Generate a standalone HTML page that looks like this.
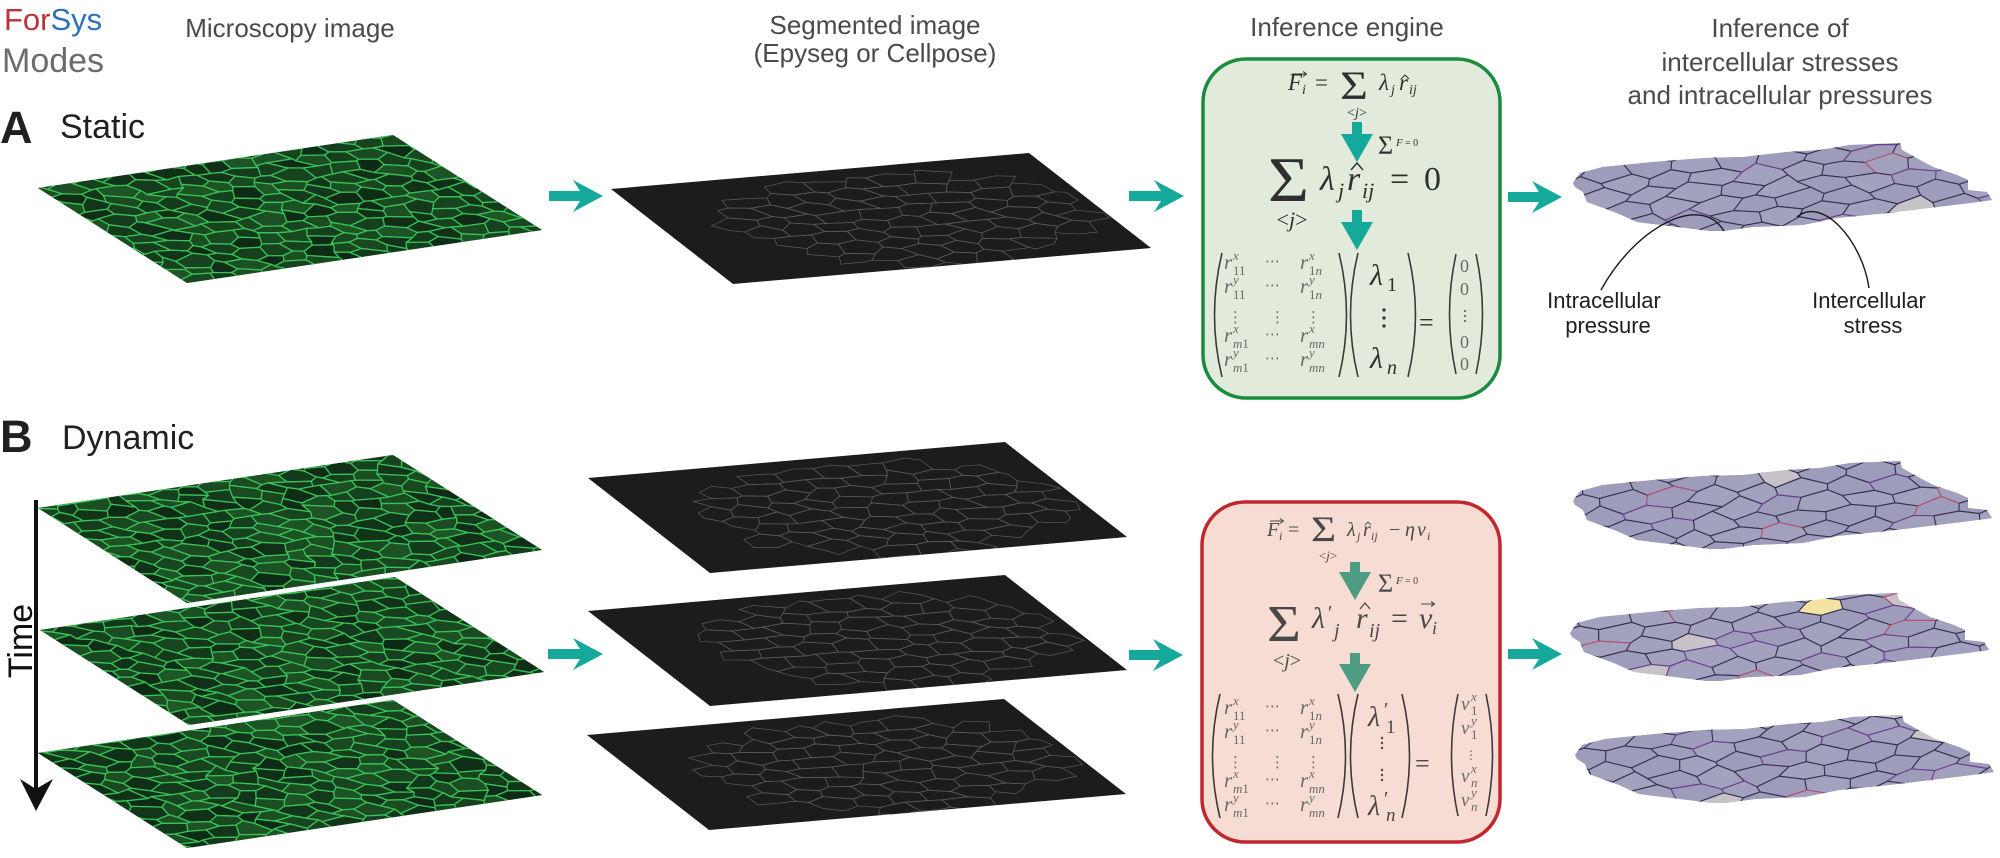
<!DOCTYPE html>
<html><head><meta charset="utf-8">
<style>
html,body{margin:0;padding:0;background:#fff;width:2000px;height:858px;overflow:hidden;}
svg{display:block;}
text{font-family:"Liberation Sans",Arial,sans-serif;}
.hd{font-size:26px;fill:#4a4a4a;}
.m{font-family:"Liberation Serif","DejaVu Serif",serif;}
.i{font-style:italic;}
.mt{font-family:"Liberation Serif","DejaVu Serif",serif;font-style:italic;font-size:21px;fill:#6a6a6a;}
.ms{font-family:"Liberation Serif","DejaVu Serif",serif;font-style:italic;font-size:13px;fill:#6a6a6a;}
.up{font-style:normal;}
.dd{font-family:"DejaVu Sans","Liberation Sans",sans-serif;font-size:15px;fill:#6a6a6a;}
.ea{fill:#2f2f2f;}
.eb{fill:#484848;}
</style></head><body>
<svg id="s" width="2000" height="858" viewBox="0 0 2000 858" xmlns="http://www.w3.org/2000/svg">
<defs>
 <clipPath id="cp"><rect x="0" y="0" width="400" height="300"/></clipPath>
 <clipPath id="blob"><polygon points="1573,183 1580,173 1603,167 1653,162 1703,158 1743,157 1787,152 1820,150 1850,145 1900,143 1902,150 1920,160 1933,167 1957,175 1968,180 1968,190 1987,192 1992,200 1970,203 1937,207 1887,213 1837,218 1803,225 1753,227 1723,231 1710,231 1670,226 1637,222 1617,213 1587,202 1583,192 1575,187"/></clipPath>
</defs>

<!-- Top-left titles -->
<text x="4" y="30" font-size="31"><tspan fill="#b8343c">For</tspan><tspan fill="#2b72b8">Sys</tspan></text>
<text x="2" y="72" font-size="34" fill="#6b6b6b">Modes</text>

<!-- Column headers -->
<text class="hd" x="290" y="37" text-anchor="middle">Microscopy image</text>
<text class="hd" x="875" y="34" text-anchor="middle">Segmented image</text>
<text class="hd" x="875" y="62" text-anchor="middle">(Epyseg or Cellpose)</text>
<text class="hd" x="1347" y="36" text-anchor="middle">Inference engine</text>
<text class="hd" x="1780" y="37" text-anchor="middle">Inference of</text>
<text class="hd" x="1780" y="71" text-anchor="middle">intercellular  stresses</text>
<text class="hd" x="1780" y="104" text-anchor="middle">and intracellular pressures</text>

<!-- Section labels -->
<text x="0" y="143" font-size="45" font-weight="bold" fill="#231f20">A</text>
<text x="60" y="138" font-size="34" fill="#231f20">Static</text>
<text x="0" y="452" font-size="45" font-weight="bold" fill="#231f20">B</text>
<text x="62" y="449" font-size="34" fill="#231f20">Dynamic</text>

<!-- Time arrow -->
<line x1="36" y1="500" x2="36" y2="792" stroke="#111" stroke-width="4"/>
<polygon points="20,779 36,789 53,779 36,811" fill="#111"/>
<text transform="translate(32,641) rotate(-90)" font-size="34" text-anchor="middle" fill="#111">Time</text>

<!-- Green microscopy planes -->
<g transform="matrix(0.8875 -0.1325 0.4967 0.3167 38 188)"><rect width="400" height="300" fill="#1c4a26"/><g id="gA" clip-path="url(#cp)"></g></g>
<g transform="matrix(0.8875 -0.1325 0.4967 0.3167 38 508)"><rect width="400" height="300" fill="#1c4a26"/><g id="gB1" clip-path="url(#cp)"></g></g>
<g transform="matrix(0.8875 -0.1325 0.4967 0.3167 40 630)"><rect width="400" height="300" fill="#1c4a26"/><g id="gB2" clip-path="url(#cp)"></g></g>
<g transform="matrix(0.8875 -0.1325 0.4967 0.3167 38 753)"><rect width="400" height="300" fill="#1c4a26"/><g id="gB3" clip-path="url(#cp)"></g></g>

<!-- Black segmented planes -->
<g transform="matrix(1.045 -0.09 0.4067 0.3167 611 189)"><rect width="400" height="300" fill="#1b1c1c"/><g id="kA" clip-path="url(#cp)"></g></g>
<g transform="matrix(1.0425 -0.09 0.4067 0.3167 588 478)"><rect width="400" height="300" fill="#1b1c1c"/><g id="kB1" clip-path="url(#cp)"></g></g>
<g transform="matrix(1.0425 -0.09 0.4067 0.3167 588 611)"><rect width="400" height="300" fill="#1b1c1c"/><g id="kB2" clip-path="url(#cp)"></g></g>
<g transform="matrix(1.0425 -0.09 0.4067 0.3167 587 735)"><rect width="400" height="300" fill="#1b1c1c"/><g id="kB3" clip-path="url(#cp)"></g></g>

<!-- Teal arrows -->
<g fill="#15a99b">
 <polygon points="549,191 580,191 573,180 603,196 573,212 580,201 549,201"/>
 <polygon points="1129,191 1161,191 1154,180 1184,196 1154,212 1161,201 1129,201"/>
 <polygon points="1508,192 1539,192 1532,181 1562,197 1532,213 1539,202 1508,202"/>
 <polygon points="548,649 580,649 573,638 603,654 573,670 580,659 548,659"/>
 <polygon points="1129,650 1160,650 1153,639 1183,655 1153,671 1160,660 1129,660"/>
 <polygon points="1508,649 1539,649 1532,638 1562,654 1532,670 1539,659 1508,659"/>
</g>

<!-- Meshes (inference output) -->
<g><g clip-path="url(#blob)"><rect x="1560" y="130" width="440" height="120" fill="#9f9eba"/><g id="mA"></g></g></g>
<g transform="translate(0,318)"><g clip-path="url(#blob)"><rect x="1560" y="130" width="440" height="120" fill="#9f9eba"/><g id="mB1"></g></g></g>
<g transform="translate(-3,450)"><g clip-path="url(#blob)"><rect x="1560" y="130" width="440" height="120" fill="#9f9eba"/><g id="mB2"></g></g></g>
<g transform="translate(2,572)"><g clip-path="url(#blob)"><rect x="1560" y="130" width="440" height="120" fill="#9f9eba"/><g id="mB3"></g></g></g>

<!-- Pointer curves and labels -->
<path d="M1601,290 C1635,228 1700,192 1724,231" fill="none" stroke="#1a1a1a" stroke-width="1.4"/>
<path d="M1869,288 C1862,240 1822,196 1797,217" fill="none" stroke="#1a1a1a" stroke-width="1.4"/>
<text x="1604" y="308" font-size="22" text-anchor="middle" fill="#1e1e1e">Intracellular</text>
<text x="1608" y="333" font-size="22" text-anchor="middle" fill="#1e1e1e">pressure</text>
<text x="1869" y="308" font-size="22" text-anchor="middle" fill="#1e1e1e">Intercellular</text>
<text x="1873" y="333" font-size="22" text-anchor="middle" fill="#1e1e1e">stress</text>

<!-- ================= Box A (static) ================= -->
<rect x="1203" y="59" width="297" height="339" rx="43" ry="43" fill="#e1eadb" stroke="#1b8b3d" stroke-width="3.5"/>
<g class="ea">
 <text class="m i" x="1288" y="90" font-size="23">F</text>
 <path d="M1292,74 H1306 M1303,71.5 L1306.5,74 L1303,76.5" stroke="#2f2f2f" stroke-width="1" fill="none"/>
 <text class="m i" x="1302" y="94" font-size="14">i</text>
 <text class="m" x="1315" y="90" font-size="23">=</text>
 <text class="m" x="1340" y="99" font-size="40" transform="translate(1340,0) scale(1.2,1) translate(-1340,0)">Σ</text>
 <text class="m" x="1357" y="117" font-size="14" text-anchor="middle">&lt;<tspan class="i">j</tspan>&gt;</text>
 <text class="m i" x="1379" y="90" font-size="23">λ</text>
 <text class="m i" x="1391" y="94" font-size="14">j</text>
 <text class="m i" x="1399" y="90" font-size="23">r</text>
 <path d="M1401,79 L1405,75 L1409,79" stroke="#2f2f2f" stroke-width="1" fill="none"/>
 <text class="m i" x="1409" y="94" font-size="14">ij</text>
</g>
<polygon points="1352,122 1362,122 1362,134 1373,134 1357,162 1341,134 1352,134" fill="#15a99b"/>
<g class="ea">
 <text class="m" x="1378" y="154" font-size="26">Σ</text>
 <text class="m i" x="1396" y="146" font-size="11">F</text>
 <text class="m" x="1405" y="146" font-size="10">= 0</text>
</g>
<g class="ea">
 <text class="m" x="1268" y="201" font-size="64" transform="translate(1268,0) scale(1.1,1) translate(-1268,0)">Σ</text>
 <text class="m" x="1292" y="227" font-size="22" text-anchor="middle">&lt;<tspan class="i">j</tspan>&gt;</text>
 <text class="m i" x="1320" y="190" font-size="34">λ</text>
 <text class="m i" x="1338" y="198" font-size="22">j</text>
 <text class="m i" x="1347" y="190" font-size="34">r</text>
 <path d="M1351,170 L1357,163 L1363,170" stroke="#2f2f2f" stroke-width="1.4" fill="none"/>
 <text class="m i" x="1362" y="198" font-size="22">ij</text>
 <text class="m" x="1390" y="190" font-size="34">=</text>
 <text class="m" x="1424" y="190" font-size="34">0</text>
</g>
<polygon points="1352,210 1362,210 1362,222 1373,222 1357,250 1341,222 1352,222" fill="#15a99b"/>

<!-- Matrix A -->
<g fill="none" stroke="#3a3a3a" stroke-width="1.6">
 <path d="M1222,253 Q1207,315 1222,377"/>
 <path d="M1339,253 Q1354,315 1339,377"/>
 <path d="M1358,253 Q1343,315 1358,377"/>
 <path d="M1408,253 Q1423,315 1408,377"/>
 <path d="M1456,254 Q1443,314 1456,374"/>
 <path d="M1476,254 Q1489,314 1476,374"/>
</g>
<g>
 <text class="mt" x="1224" y="269">r</text><text class="ms" x="1233" y="260">x</text><text class="ms" x="1233" y="275"><tspan class="up">11</tspan></text>
 <text class="dd" x="1265" y="266">⋯</text>
 <text class="mt" x="1300" y="269">r</text><text class="ms" x="1309" y="260">x</text><text class="ms" x="1309" y="275"><tspan class="up">1</tspan>n</text>
 <text class="mt" x="1224" y="293">r</text><text class="ms" x="1233" y="284">y</text><text class="ms" x="1233" y="299"><tspan class="up">11</tspan></text>
 <text class="dd" x="1265" y="290">⋯</text>
 <text class="mt" x="1300" y="293">r</text><text class="ms" x="1309" y="284">y</text><text class="ms" x="1309" y="299"><tspan class="up">1</tspan>n</text>
 <text class="dd" x="1228" y="322">⋮</text><text class="dd" x="1270" y="322">⋮</text><text class="dd" x="1306" y="322">⋮</text>
 <text class="mt" x="1224" y="342">r</text><text class="ms" x="1233" y="333">x</text><text class="ms" x="1233" y="348">m<tspan class="up">1</tspan></text>
 <text class="dd" x="1265" y="339">⋯</text>
 <text class="mt" x="1300" y="342">r</text><text class="ms" x="1309" y="333">x</text><text class="ms" x="1309" y="348">mn</text>
 <text class="mt" x="1224" y="366">r</text><text class="ms" x="1233" y="357">y</text><text class="ms" x="1233" y="372">m<tspan class="up">1</tspan></text>
 <text class="dd" x="1265" y="363">⋯</text>
 <text class="mt" x="1300" y="366">r</text><text class="ms" x="1309" y="357">y</text><text class="ms" x="1309" y="372">mn</text>
</g>
<g class="ea">
 <text class="m i" x="1370" y="285" font-size="30">λ</text>
 <text class="m" x="1387" y="291" font-size="20">1</text>
 <circle cx="1384" cy="310" r="1.6"/><circle cx="1384" cy="318" r="1.6"/><circle cx="1384" cy="326" r="1.6"/>
 <text class="m i" x="1370" y="368" font-size="30">λ</text>
 <text class="m i" x="1387" y="374" font-size="20">n</text>
 <text class="m" x="1419" y="331" font-size="26">=</text>
</g>
<g fill="#6a6a6a">
 <text class="m" x="1460" y="272" font-size="18">0</text>
 <text class="m" x="1460" y="295" font-size="18">0</text>
 <circle cx="1465" cy="311" r="1.1"/><circle cx="1465" cy="316" r="1.1"/><circle cx="1465" cy="321" r="1.1"/>
 <text class="m" x="1460" y="348" font-size="18">0</text>
 <text class="m" x="1460" y="370" font-size="18">0</text>
</g>

<!-- ================= Box B (dynamic) ================= -->
<rect x="1202" y="502" width="298" height="340" rx="43" ry="43" fill="#f7dcd3" stroke="#c1272d" stroke-width="3.5"/>
<g class="eb">
 <text class="m i" x="1267" y="536" font-size="20">F</text>
 <path d="M1270,521 H1283 M1280,518.5 L1283.5,521 L1280,523.5" stroke="#484848" stroke-width="1" fill="none"/>
 <text class="m i" x="1279" y="540" font-size="12">i</text>
 <text class="m" x="1288" y="536" font-size="20">=</text>
 <text class="m" x="1311" y="541" font-size="36" transform="translate(1311,0) scale(1.2,1) translate(-1311,0)">Σ</text>
 <text class="m" x="1328" y="560" font-size="13" text-anchor="middle">&lt;<tspan class="i">j</tspan>&gt;</text>
 <text class="m i" x="1347" y="536" font-size="20">λ</text>
 <text class="m i" x="1357" y="540" font-size="12">j</text>
 <text class="m i" x="1363" y="536" font-size="20">r</text>
 <path d="M1365,525 L1368,522 L1371,525" stroke="#484848" stroke-width="0.9" fill="none"/>
 <text class="m i" x="1371" y="540" font-size="12">ij</text>
 <text class="m" x="1389" y="536" font-size="20">−</text>
 <text class="m i" x="1405" y="536" font-size="20">η</text>
 <text class="m i" x="1417" y="536" font-size="20">v</text>
 <text class="m i" x="1427" y="540" font-size="12">i</text>
</g>
<polygon points="1350,562 1360,562 1360,572 1371,572 1355,600 1339,572 1350,572" fill="#4f9c84"/>
<g class="eb">
 <text class="m" x="1378" y="592" font-size="26">Σ</text>
 <text class="m i" x="1396" y="584" font-size="11">F</text>
 <text class="m" x="1405" y="584" font-size="10">= 0</text>
</g>
<g class="eb">
 <text class="m" x="1267" y="641" font-size="52" transform="translate(1267,0) scale(1.12,1) translate(-1267,0)">Σ</text>
 <text class="m" x="1287" y="667" font-size="20" text-anchor="middle">&lt;<tspan class="i">j</tspan>&gt;</text>
 <text class="m i" x="1312" y="628" font-size="30">λ</text>
 <text class="m" x="1328" y="619" font-size="20">′</text>
 <text class="m i" x="1334" y="637" font-size="20">j</text>
 <text class="m i" x="1356" y="628" font-size="30">r</text>
 <path d="M1360,609 L1365,603 L1370,609" stroke="#484848" stroke-width="1.3" fill="none"/>
 <text class="m i" x="1369" y="637" font-size="20">ij</text>
 <text class="m" x="1391" y="628" font-size="30">=</text>
 <text class="m i" x="1419" y="628" font-size="30">v</text>
 <path d="M1421,604 H1434 M1431,601.5 L1434.5,604 L1431,606.5" stroke="#484848" stroke-width="1.1" fill="none"/>
 <text class="m i" x="1432" y="634" font-size="18">i</text>
</g>
<polygon points="1350,653 1360,653 1360,664 1371,664 1355,692 1339,664 1350,664" fill="#4f9c84"/>

<!-- Matrix B -->
<g fill="none" stroke="#3a3a3a" stroke-width="1.6">
 <path d="M1220,694 Q1205,756 1220,818"/>
 <path d="M1338,694 Q1353,756 1338,818"/>
 <path d="M1358,694 Q1343,756 1358,818"/>
 <path d="M1402,694 Q1417,756 1402,818"/>
 <path d="M1458,694 Q1445,755 1458,816"/>
 <path d="M1486,694 Q1499,755 1486,816"/>
</g>
<g>
 <text class="mt" x="1224" y="714">r</text><text class="ms" x="1233" y="705">x</text><text class="ms" x="1233" y="720"><tspan class="up">11</tspan></text>
 <text class="dd" x="1265" y="711">⋯</text>
 <text class="mt" x="1300" y="714">r</text><text class="ms" x="1309" y="705">x</text><text class="ms" x="1309" y="720"><tspan class="up">1</tspan>n</text>
 <text class="mt" x="1224" y="738">r</text><text class="ms" x="1233" y="729">y</text><text class="ms" x="1233" y="744"><tspan class="up">11</tspan></text>
 <text class="dd" x="1265" y="735">⋯</text>
 <text class="mt" x="1300" y="738">r</text><text class="ms" x="1309" y="729">y</text><text class="ms" x="1309" y="744"><tspan class="up">1</tspan>n</text>
 <text class="dd" x="1228" y="767">⋮</text><text class="dd" x="1270" y="767">⋮</text><text class="dd" x="1306" y="767">⋮</text>
 <text class="mt" x="1224" y="787">r</text><text class="ms" x="1233" y="778">x</text><text class="ms" x="1233" y="793">m<tspan class="up">1</tspan></text>
 <text class="dd" x="1265" y="784">⋯</text>
 <text class="mt" x="1300" y="787">r</text><text class="ms" x="1309" y="778">x</text><text class="ms" x="1309" y="793">mn</text>
 <text class="mt" x="1224" y="811">r</text><text class="ms" x="1233" y="802">y</text><text class="ms" x="1233" y="817">m<tspan class="up">1</tspan></text>
 <text class="dd" x="1265" y="808">⋯</text>
 <text class="mt" x="1300" y="811">r</text><text class="ms" x="1309" y="802">y</text><text class="ms" x="1309" y="817">mn</text>
</g>
<g class="eb">
 <text class="m i" x="1368" y="726" font-size="28">λ</text>
 <text class="m" x="1384" y="716" font-size="20">′</text>
 <text class="m" x="1386" y="733" font-size="19">1</text>
 <circle cx="1382" cy="738" r="1.2"/><circle cx="1382" cy="743" r="1.2"/><circle cx="1382" cy="748" r="1.2"/>
 <circle cx="1382" cy="770" r="1.2"/><circle cx="1382" cy="775" r="1.2"/><circle cx="1382" cy="780" r="1.2"/>
 <text class="m i" x="1368" y="815" font-size="28">λ</text>
 <text class="m" x="1384" y="805" font-size="20">′</text>
 <text class="m i" x="1386" y="821" font-size="19">n</text>
 <text class="m" x="1415" y="772" font-size="26">=</text>
</g>
<g>
 <text class="mt" x="1461" y="710" style="font-size:19px">v</text><text class="ms" x="1471" y="701">x</text><text class="ms" x="1471" y="715"><tspan class="up">1</tspan></text>
 <text class="mt" x="1461" y="734" style="font-size:19px">v</text><text class="ms" x="1471" y="725">y</text><text class="ms" x="1471" y="739"><tspan class="up">1</tspan></text>
 <text class="dd" x="1465" y="759" style="font-size:12px">⋮</text>
 <text class="mt" x="1461" y="782" style="font-size:19px">v</text><text class="ms" x="1471" y="773">x</text><text class="ms" x="1471" y="787">n</text>
 <text class="mt" x="1461" y="806" style="font-size:19px">v</text><text class="ms" x="1471" y="797">y</text><text class="ms" x="1471" y="811">n</text>
</g>
</svg>

<script>
(function(){
var NS='http://www.w3.org/2000/svg';
function rng(s){return function(){s=(Math.imul(s,1664525)+1013904223)>>>0;return s/4294967296;};}
function el(t,a,p){var e=document.createElementNS(NS,t);for(var k in a)e.setAttribute(k,a[k]);if(p)p.appendChild(e);return e;}
function cells(x0,y0,W,H,cw,ch,jx,jy,hy,rand){
  var R=Math.ceil(H/ch)+3,K=Math.ceil(W/(cw/2))+5,V=[],out=[],r,k;
  for(r=0;r<=R;r++){V[r]=[];for(k=0;k<=K;k++){
    var off=((k%2)===(r%2))?hy:-hy;
    V[r][k]=[x0+(k-2)*cw/2+(rand()-0.5)*jx, y0+(r-1)*ch+off+(rand()-0.5)*jy];}}
  for(r=0;r<R;r++){for(k=r%2;k+2<=K;k+=2){
    var p=[V[r][k],V[r][k+1],V[r][k+2],V[r+1][k+2],V[r+1][k+1],V[r+1][k]];
    var cx=0,cy=0;for(var i=0;i<6;i++){cx+=p[i][0];cy+=p[i][1];}
    out.push({p:p,cx:cx/6,cy:cy/6});}}
  return out;
}
function pts(p){return p.map(function(q){return q[0].toFixed(1)+','+q[1].toFixed(1);}).join(' ');}

function green(id,seed){
  var g=document.getElementById(id); if(!g) return; var rand=rng(seed);
  var cs=cells(0,0,400,300,28,26,16,14,4,rand);
  cs.forEach(function(c){
    var t=rand();
    var rr=Math.round(14+16*t), gg=Math.round(42+44*t), bb=Math.round(22+16*t);
    el('polygon',{points:pts(c.p),fill:'rgb('+rr+','+gg+','+bb+')',stroke:'#3cc85a','stroke-width':'1.3','stroke-opacity':'0.9','stroke-linejoin':'round','vector-effect':'non-scaling-stroke'},g);
  });
}
function black(id,seed){
  var g=document.getElementById(id); if(!g) return; var rand=rng(seed);
  var cs=cells(0,0,400,300,34,30,14,12,4,rand);
  cs.forEach(function(c){
    var du=(c.cx/400-0.56)/0.40, dv=(c.cy/300-0.52)/0.46;
    if(du*du+dv*dv<1) el('polygon',{points:pts(c.p),fill:'none',stroke:'#5c5c5c','stroke-width':'0.7','vector-effect':'non-scaling-stroke'},g);
  });
}
function mesh(id,seed){
  var g=document.getElementById(id); if(!g) return; var rand=rng(seed);
  var cs=cells(1540,110,480,160,44,14,14,5,3,rand);
  cs.forEach(function(c){
    var p=c.p.map(function(q){return [q[0], q[1]-0.07*(q[0]-1780)];});
    var t=rand(), fill;
    if(t<0.03) fill='#c6c2c8'; else if(t<0.04) fill='#f3e3a2'; else if(t<0.5) fill='#9d9cba'; else fill='#a3a2be';
    var s=rand(), st = s<0.75?'#34304e':(s<0.93?'#6b3f8f':'#b9506b');
    el('polygon',{points:pts(p),fill:fill,stroke:st,'stroke-width':'1.1','stroke-linejoin':'round'},g);
  });
}
green('gA',11);green('gB1',23);green('gB2',37);green('gB3',41);
black('kA',5);black('kB1',7);black('kB2',13);black('kB3',17);
mesh('mA',3);mesh('mB1',9);mesh('mB2',19);mesh('mB3',29);
})();
</script>
</body></html>
